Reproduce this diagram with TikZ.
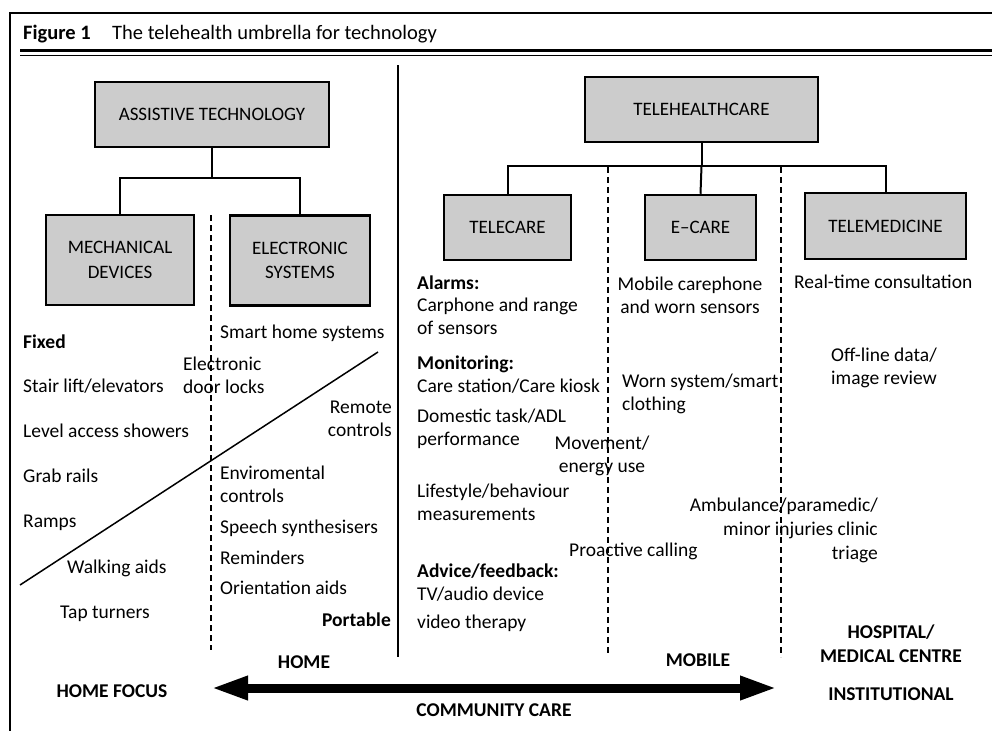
\documentclass[tikz,border=0pt]{standalone}
\usepackage{fontspec}
\setmainfont{Carlito}
\usetikzlibrary{arrows.meta}
\definecolor{boxgray}{RGB}{204,204,204}
\begin{document}
\begin{tikzpicture}[x=1pt,y=-1pt,
  every node/.style={font=\fontsize{19.5}{23}\selectfont, inner sep=0pt, text height=15pt, text depth=3pt},
  lt/.style={anchor=west, align=left},
  rt/.style={anchor=east, align=right},
  ct/.style={align=center},
  hd/.style={font=\fontsize{19.5}{23}\selectfont\bfseries},
  ttl/.style={font=\fontsize{20.5}{24}\selectfont},
  box/.style={draw=black, line width=2.5pt, fill=boxgray, align=center,
    text height={}, text depth={}, font=\fontsize{19}{24.5}\selectfont},
  link/.style={line width=2pt},
  divider/.style={line width=2pt, dash pattern=on 6pt off 4pt},
  bigarrow/.style={line width=9pt, {Triangle[length=37pt,width=22pt]}-{Triangle[length=37pt,width=22pt]}}
]
\useasboundingbox (0,0) rectangle (992,731);

% frame and title rules
\draw[line width=2pt] (992,13) -- (10,13) -- (10,731);
\draw[line width=3pt] (20,50) -- (992,50);
\draw[line width=1.8pt] (20,55.5) -- (992,55.5);
\node[lt, ttl, font=\fontsize{20.5}{24}\selectfont\bfseries] (figno) at (23,33) {Figure 1};
\node[lt, ttl] (title) at (112,33) {The telehealth umbrella for technology};

% main solid divider between the two trees
\draw[line width=2pt] (398,65) -- (398,657);

% assistive technology tree
\node[box, minimum width=234pt, minimum height=65pt] (at) at (212,114.5) {ASSISTIVE TECHNOLOGY};
\node[box, minimum width=148pt, minimum height=90pt] (md) at (120,260) {MECHANICAL\\DEVICES};
\node[box, minimum width=140pt, minimum height=90pt] (es) at (300,260.5) {ELECTRONIC\\SYSTEMS};
\coordinate (lj) at (212,178);
\draw[link] (at.south) -- (lj);
\draw[link] (md.north) |- (lj) -| (es.north);

\draw[divider] (211,215) -- (211,650);
\draw[line width=1.5pt] (20,585) -- (378,352);

\node[lt, hd] (fixed) at (23,342) {Fixed};
\node[lt] (stair) at (23,386) {Stair lift/elevators};
\node[lt] (shower) at (23,431) {Level access showers};
\node[lt] (grab) at (23,476) {Grab rails};
\node[lt] (ramps) at (23,521) {Ramps};
\node[lt] (walk) at (67,567) {Walking aids};
\node[lt] (tap) at (60,612) {Tap turners};
\node[lt] (door) at (183,387) {Electronic\\door locks};
\node[lt] (smart) at (220,332) {Smart home systems};
\node[rt] (remote) at (392,430) {Remote\\controls};
\node[lt] (envir) at (220,496) {Enviromental\\controls};
\node[lt] (speech) at (220,527) {Speech synthesisers};
\node[lt] (remind) at (220,558) {Reminders};
\node[lt] (orient) at (220,588) {Orientation aids};
\node[rt, hd] (portable) at (391,620) {Portable};

% telehealthcare tree
\node[box, minimum width=233pt, minimum height=65pt] (th) at (701.5,109.5) {TELEHEALTHCARE};
\node[box, minimum width=127pt, minimum height=65pt] (tc) at (507.5,227.5) {TELECARE};
\node[box, minimum width=111pt, minimum height=65pt] (ec) at (700.5,227.5) {E--CARE};
\node[box, minimum width=161pt, minimum height=66pt] (tm) at (885.5,226) {TELEMEDICINE};
\coordinate (rj) at (701.5,166);
\draw[link] (th.south) -- (rj);
\draw[link] (tc.north) |- (rj) -| (tm.north);
\draw[link] (rj) -- (ec.north);

\draw[divider] (608,167) -- (608,656);
\draw[divider] (781,167) -- (781,657);

\node[lt, hd] (alarms) at (417,283) {Alarms:};
\node[lt] (carphone) at (417,328) {Carphone and range\\of sensors};
\node[lt, hd] (monit) at (417,363) {Monitoring:};
\node[lt] (kiosk) at (417,386) {Care station/Care kiosk};
\node[lt] (adl) at (417,439) {Domestic task/ADL\\performance};
\node[ct] (move) at (602,466) {Movement/\\energy use};
\node[lt] (life) at (417,514) {Lifestyle/behaviour\\measurements};
\node[lt] (proact) at (569,550) {Proactive calling};
\node[lt, hd] (advice) at (417,571) {Advice/feedback:};
\node[lt] (tv) at (417,594) {TV/audio device};
\node[lt] (video) at (417,622) {video therapy};

\node[ct] (mobcar) at (690,307) {Mobile carephone\\and worn sensors};
\node[lt] (worn) at (622,404) {Worn system/smart\\clothing};

\node[lt] (realtime) at (794,282) {Real-time consultation};
\node[lt] (offline) at (831,378) {Off-line data/\\image review};
\node[rt, font=\fontsize{19.5}{24}\selectfont] (amb) at (878,553) {Ambulance/paramedic/\\minor injuries clinic\\triage};

% care setting scale
\node[hd] (home) at (304,662) {HOME};
\node[hd] (mobile) at (698,660) {MOBILE};
\node[ct, hd, font=\fontsize{19.5}{24}\selectfont\bfseries] (hosp) at (891,656) {HOSPITAL/\\MEDICAL CENTRE};
\node[hd] (homefocus) at (112,691) {HOME FOCUS};
\node[hd] (inst) at (891,694) {INSTITUTIONAL};
\node[hd] (comm) at (494,710) {COMMUNITY CARE};
\coordinate (al) at (211,688);
\coordinate (ar) at (777,688);
\draw[bigarrow] (al) -- (ar);
\end{tikzpicture}
\end{document}
